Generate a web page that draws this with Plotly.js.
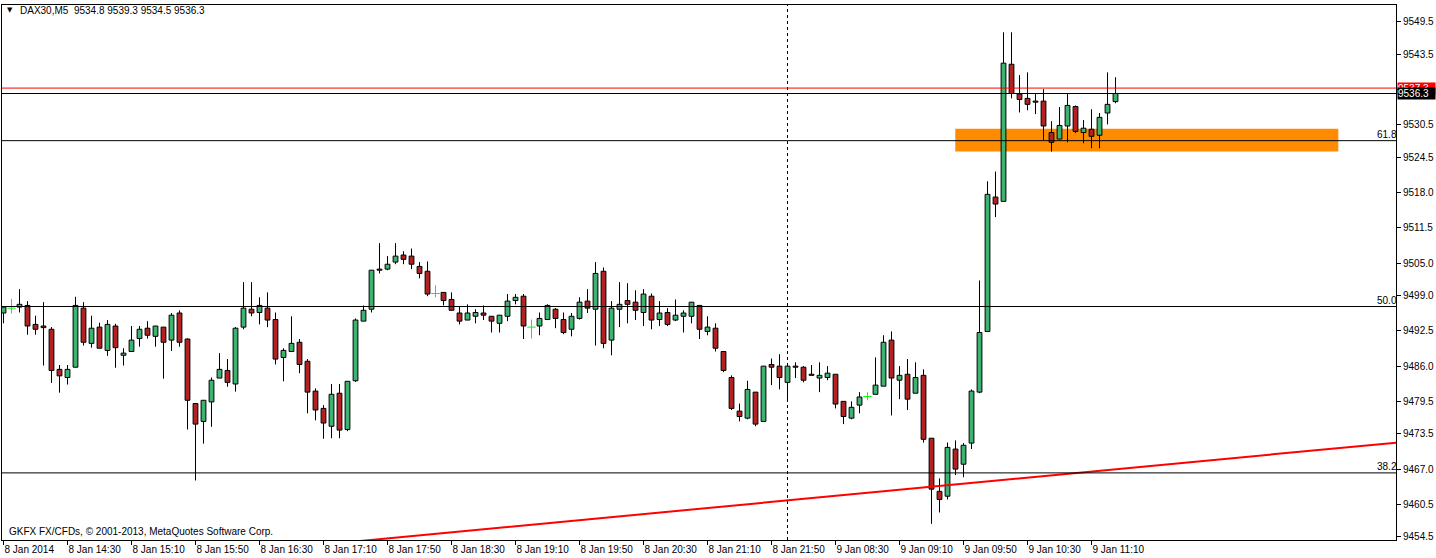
<!DOCTYPE html>
<html><head><meta charset="utf-8">
<script src="https://cdn.plot.ly/plotly-3.0.1.min.js"></script>
<style>html,body{margin:0;padding:0;background:#fff;} #chart{width:1436px;height:558px;}</style>
</head><body><div id="chart"></div>
<script>
const headerText = "DAX30,M5  9534.8 9539.3 9534.5 9536.3";
const copyrightText = "GKFX FX/CFDs, \u00a9 2001-2013, MetaQuotes Software Corp.";

const openP = [9495.8,9496.7,9496.9,9497.2,9493.7,9493.4,9492.8,9485.4,9483.9,9485.8,
9496.7,9490.2,9493.2,9488.9,9493.4,9488.0,9488.7,9491.1,9493.0,9491.5,
9493.2,9490.8,9495.8,9491.0,9479.1,9475.8,9479.4,9483.8,9485.2,9482.7,
9493.2,9496.5,9495.9,9496.7,9494.6,9487.6,9488.7,9490.4,9486.9,9481.4,
9478.2,9474.9,9481.0,9474.3,9483.3,9494.3,9496.5,9503.9,9503.9,9505.2,
9506.5,9506.3,9504.4,9503.5,9499.4,9499.6,9498.3,9495.8,9494.5,9495.2,
9495.8,9495.2,9493.9,9495.2,9498.1,9498.9,9493.2,9493.4,9494.6,9496.5,
9494.6,9492.8,9494.8,9498.0,9496.5,9503.5,9490.8,9496.5,9498.1,9497.8,
9495.9,9498.9,9494.6,9495.9,9494.5,9495.2,9495.2,9497.2,9492.4,9493.0,
9488.7,9483.9,9477.7,9476.4,9481.2,9475.8,9486.3,9486.0,9483.0,9486.0,
9485.8,9484.5,9483.8,9483.9,9484.5,9479.5,9476.4,9478.8,9480.4,9480.8,
9482.3,9490.8,9483.4,9484.5,9481.0,9484.3,9472.7,9462.9,9462.0,9470.7,
9467.9,9471.8,9481.2,9492.4,9517.2,9516.4,9541.7,9536.2,9535.4,9534.9,
9534.9,9529.1,9527.9,9530.3,9533.9,9529.1,9529.7,9528.6,9532.7,9534.8];

const highP = [9497.1,9498.4,9500.2,9498.0,9495.3,9497.8,9493.2,9486.2,9486.2,9498.8,
9497.8,9495.3,9494.0,9494.5,9493.8,9489.3,9493.4,9493.4,9494.3,9493.4,
9493.2,9495.8,9496.3,9491.1,9479.1,9479.7,9483.9,9488.4,9487.3,9493.2,
9501.5,9501.5,9498.7,9499.6,9495.9,9489.3,9495.2,9491.0,9487.3,9481.9,
9478.8,9482.7,9482.7,9483.2,9494.8,9497.2,9503.7,9508.7,9506.3,9508.7,
9507.2,9507.7,9505.2,9505.3,9500.9,9499.6,9499.6,9497.0,9497.4,9496.5,
9497.2,9495.2,9495.4,9499.3,9499.3,9499.3,9494.6,9495.9,9497.4,9496.7,
9495.9,9495.8,9498.7,9500.2,9505.2,9504.2,9498.0,9501.5,9501.3,9500.0,
9500.2,9499.4,9498.0,9496.7,9498.3,9496.3,9497.8,9497.2,9495.2,9493.9,
9488.7,9484.3,9479.1,9483.3,9481.2,9486.0,9487.4,9488.2,9486.0,9486.7,
9486.0,9486.2,9486.7,9486.0,9484.5,9479.5,9479.5,9481.2,9481.2,9487.6,
9491.7,9492.4,9486.0,9487.3,9486.7,9485.4,9472.7,9465.3,9471.9,9472.3,
9471.8,9481.7,9501.8,9520.1,9521.9,9547.6,9547.6,9539.7,9540.2,9536.2,
9537.1,9531.2,9533.8,9536.3,9534.1,9531.4,9533.4,9532.7,9540.2,9539.3];

const lowP = [9493.9,9495.7,9495.9,9491.8,9491.8,9486.1,9482.9,9481.1,9482.6,9485.8,
9489.8,9489.4,9489.3,9487.9,9485.7,9486.1,9488.7,9489.6,9491.1,9489.6,
9483.7,9488.8,9489.6,9474.3,9464.9,9471.7,9474.8,9483.8,9482.2,9481.3,
9492.8,9495.2,9493.7,9493.2,9486.3,9483.2,9488.7,9484.7,9477.3,9476.0,
9472.6,9472.7,9472.7,9474.0,9483.1,9494.3,9495.9,9503.1,9503.7,9504.8,
9504.8,9503.9,9502.2,9498.9,9498.7,9497.2,9496.3,9493.7,9494.5,9493.9,
9494.5,9492.2,9492.2,9494.3,9497.4,9491.0,9491.1,9491.7,9494.6,9493.0,
9491.9,9491.5,9494.6,9495.8,9489.8,9489.3,9488.0,9493.2,9493.9,9494.5,
9493.4,9492.8,9493.4,9493.4,9494.3,9492.2,9493.9,9491.0,9491.7,9488.7,
9484.9,9477.9,9475.8,9476.2,9474.9,9475.8,9482.5,9481.7,9479.7,9483.8,
9483.0,9484.3,9481.2,9483.4,9478.2,9475.3,9476.2,9477.3,9479.7,9480.8,
9482.3,9476.9,9479.9,9477.9,9481.0,9471.9,9456.9,9459.0,9461.4,9465.9,
9465.5,9470.7,9481.0,9492.4,9513.5,9516.4,9535.4,9532.8,9533.2,9532.5,
9527.7,9525.6,9527.9,9527.3,9529.0,9527.1,9526.2,9526.2,9530.6,9534.5];

const closeP = [9496.9,9496.7,9497.4,9493.4,9492.8,9493.1,9485.2,9484.2,9485.4,9497.2,
9490.4,9493.0,9489.3,9493.7,9489.4,9488.4,9490.8,9492.8,9491.7,9493.4,
9490.4,9495.4,9490.4,9479.7,9475.3,9479.7,9483.4,9485.4,9483.0,9493.0,
9496.7,9495.8,9497.2,9494.5,9487.3,9488.9,9490.2,9486.3,9481.2,9477.9,
9475.5,9480.8,9474.2,9483.2,9494.5,9496.3,9503.7,9503.7,9504.8,9506.3,
9505.7,9504.8,9503.1,9499.3,9499.4,9498.1,9496.3,9494.3,9495.8,9495.9,
9495.4,9494.3,9495.4,9498.0,9498.7,9493.4,9493.2,9494.8,9497.2,9494.8,
9492.2,9495.2,9497.8,9496.7,9503.1,9490.2,9496.7,9497.4,9497.4,9496.3,
9499.3,9494.5,9495.8,9493.7,9495.4,9495.8,9497.8,9492.8,9493.2,9489.3,
9485.2,9478.2,9476.7,9481.7,9475.3,9486.0,9485.8,9483.9,9486.0,9485.8,
9483.4,9484.3,9484.3,9484.7,9479.0,9476.7,9478.4,9480.3,9480.4,9482.5,
9490.4,9483.8,9484.3,9479.9,9483.9,9472.5,9463.3,9461.4,9471.0,9467.0,
9471.4,9481.4,9492.2,9517.7,9515.9,9541.9,9536.3,9535.2,9534.3,9534.7,
9530.3,9527.3,9530.4,9534.1,9529.3,9529.9,9528.4,9531.9,9534.3,9536.3];

const xTickBars = [0,8,16,24,32,40,48,56,64,72,80,88,96,104,112,120,128,136];
const xTickLabels = ["8 Jan 2014","8 Jan 14:30","8 Jan 15:10","8 Jan 15:50","8 Jan 16:30","8 Jan 17:10",
"8 Jan 17:50","8 Jan 18:30","8 Jan 19:10","8 Jan 19:50","8 Jan 20:30","8 Jan 21:10","8 Jan 21:50",
"9 Jan 08:30","9 Jan 09:10","9 Jan 09:50","9 Jan 10:30","9 Jan 11:10"];
const yTickLabels = ["9549.5","9543.5","9537.0","9530.5","9524.5","9518.0","9511.5","9505.0",
"9499.0","9492.5","9486.0","9479.5","9473.5","9467.0","9460.5","9454.5"];

const fibLabels = ["61.8","50.0","38.2"];
const fibPrices = [9527.6, 9497.0, 9466.3];
const askPrice = 9537.3;
const bidPrice = 9536.3;
const zoneBars = [118.97, 166.85];
const zonePrices = [9525.6, 9529.8];
const trendBars = [119.6, 174.1];
const trendPrices = [9464.25, 9471.89];
const separatorBar = 98;

const GREEN = '#3CB371', RED = '#B22222', DOJI = '#00FF00';
const FONT = '"Liberation Sans", Arial, sans-serif';

const idx = openP.map((_, i) => i);
const upI = idx.filter(i => closeP[i] > openP[i]);
const dnI = idx.filter(i => closeP[i] < openP[i]);
const djI = idx.filter(i => closeP[i] === openP[i]);

function wicks(list) {
  const x = [], y = [];
  list.forEach(i => {
    const top = Math.max(openP[i], closeP[i]), bot = Math.min(openP[i], closeP[i]);
    x.push(i, i, null, i, i, null);
    y.push(highP[i], top, null, bot, lowP[i], null);
  });
  return {x, y};
}
const wN = wicks(upI.concat(dnI));
const wD = wicks(djI);

const traces = [
  {type:'scatter', mode:'lines', x:wN.x, y:wN.y, line:{color:'#000', width:1}, hoverinfo:'skip', connectgaps:false},
  {type:'scatter', mode:'lines', x:wD.x, y:wD.y, line:{color:DOJI, width:1}, hoverinfo:'skip', connectgaps:false},
  {type:'bar', x:upI, base:upI.map(i => openP[i]), y:upI.map(i => closeP[i]-openP[i]), width:0.6,
   marker:{color:GREEN, line:{color:'#000', width:1}}, hoverinfo:'skip'},
  {type:'bar', x:dnI, base:dnI.map(i => closeP[i]), y:dnI.map(i => openP[i]-closeP[i]), width:0.6,
   marker:{color:RED, line:{color:'#000', width:1}}, hoverinfo:'skip'},
  {type:'scatter', mode:'markers', x:djI, y:djI.map(i => closeP[i]),
   marker:{symbol:'line-ew', size:6, line:{color:DOJI, width:1}}, hoverinfo:'skip'}
];

const slope = (trendPrices[1]-trendPrices[0])/(trendBars[1]-trendBars[0]);
const tX0 = 30, tX1 = 180;
const shapes = [
  {type:'rect', xref:'x', yref:'y', x0:zoneBars[0], x1:zoneBars[1], y0:zonePrices[0], y1:zonePrices[1],
   fillcolor:'#FF8C00', line:{width:0}, layer:'below'},
  {type:'line', xref:'x', yref:'paper', x0:separatorBar, x1:separatorBar, y0:0, y1:1,
   line:{color:'#000', width:1, dash:'3px,3px'}, layer:'below'},
  {type:'line', xref:'paper', yref:'y', x0:0, x1:1, y0:askPrice, y1:askPrice, line:{color:'#FF0000', width:1}},
  {type:'line', xref:'paper', yref:'y', x0:0, x1:1, y0:bidPrice, y1:bidPrice, line:{color:'#000', width:1}},
  {type:'line', xref:'x', yref:'y', x0:tX0, x1:tX1,
   y0:trendPrices[0]+slope*(tX0-trendBars[0]), y1:trendPrices[0]+slope*(tX1-trendBars[0]),
   line:{color:'#FF0000', width:2}}
];
fibPrices.forEach(p => shapes.push({type:'line', xref:'paper', yref:'y', x0:0, x1:1, y0:p, y1:p,
  line:{color:'#000', width:1}}));

const annotations = [
  {xref:'paper', yref:'paper', x:0, y:1, xanchor:'left', yanchor:'top', xshift:3, yshift:1,
   text:'\u25BC', showarrow:false, font:{family:'DejaVu Sans', size:7, color:'#000'}},
  {xref:'paper', yref:'paper', x:0, y:1, xanchor:'left', yanchor:'top', xshift:16, yshift:2,
   text:headerText, showarrow:false, font:{family:FONT, size:10, color:'#000'}},
  {xref:'paper', yref:'paper', x:0, y:0, xanchor:'left', yanchor:'bottom', xshift:5, yshift:1,
   text:copyrightText, showarrow:false, font:{family:FONT, size:10, color:'#000'}},
  {xref:'paper', yref:'y', x:1, y:askPrice, xanchor:'left', yanchor:'middle', xshift:1,
   text:askPrice.toFixed(1), showarrow:false, bgcolor:'#FF0000', borderpad:0, width:37, align:'left',
   font:{family:FONT, size:10, color:'#fff'}},
  {xref:'paper', yref:'y', x:1, y:bidPrice, xanchor:'left', yanchor:'middle', xshift:1,
   text:bidPrice.toFixed(1), showarrow:false, bgcolor:'#000', borderpad:0, width:37, align:'left',
   font:{family:FONT, size:10, color:'#fff'}}
];
fibLabels.forEach((t, k) => annotations.push({xref:'paper', yref:'y', x:1, y:fibPrices[k],
  xanchor:'right', yanchor:'bottom', xshift:3, yshift:-1, text:t, showarrow:false,
  font:{family:FONT, size:10, color:'#000'}}));

const layout = {
  width:1436, height:558,
  margin:{l:2, r:40, t:5, b:18, pad:0},
  paper_bgcolor:'#fff', plot_bgcolor:'#fff',
  showlegend:false, hovermode:false, barmode:'overlay',
  font:{family:FONT, size:10, color:'#000'},
  xaxis:{range:[-0.1875, 174.06], showgrid:false, zeroline:false,
    showline:true, mirror:true, linecolor:'#000', linewidth:1,
    tickmode:'array', tickvals:xTickBars, ticktext:xTickLabels,
    ticks:'outside', ticklen:4, tickcolor:'#000', ticklabelposition:'outside right',
    tickfont:{family:FONT, size:10, color:'#000'}},
  yaxis:{range:[9453.92, 9552.63], side:'right', showgrid:false, zeroline:false,
    showline:true, mirror:true, linecolor:'#000', linewidth:1,
    tickmode:'array', tickvals:yTickLabels.map(Number), ticktext:yTickLabels,
    ticks:'outside', ticklen:4, tickcolor:'#000',
    tickfont:{family:FONT, size:10, color:'#000'}},
  shapes:shapes, annotations:annotations
};

Plotly.newPlot('chart', traces, layout, {staticPlot:true, displayModeBar:false});
</script>
</body></html>
